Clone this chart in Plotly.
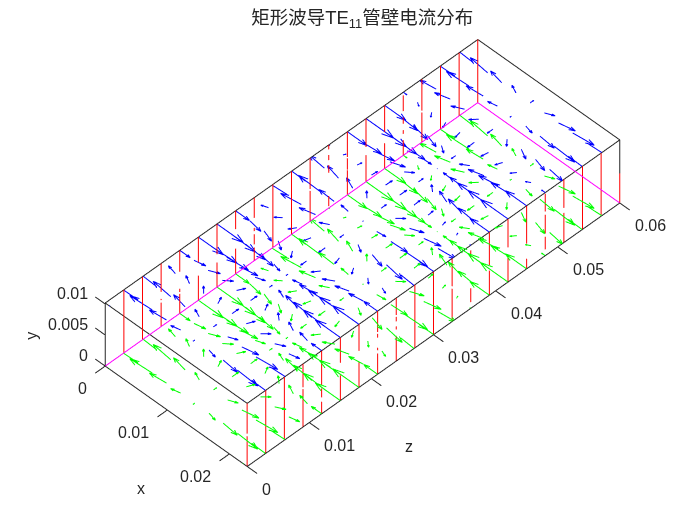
import plotly.graph_objects as go

# waveguide size (m)
A = 0.02286
B = 0.01016
C = 0.06

X_STEP = 0.002286
Z_STEP = 0.003

# surface current on the broad walls, one row per z step
# (in grid steps, x component then z component)
JX = [
    [-1.05, -1.00, -0.85, -0.62, -0.32, 0, 0.32, 0.62, 0.85, 1.00, 1.05],
    [-1.87, -1.78, -1.51, -1.10, -0.58, 0, 0.58, 1.10, 1.51, 1.78, 1.87],
    [-1.72, -1.64, -1.39, -1.01, -0.53, 0, 0.53, 1.01, 1.39, 1.64, 1.72],
    [-0.66, -0.63, -0.53, -0.39, -0.20, 0, 0.20, 0.39, 0.53, 0.63, 0.66],
    [0.74, 0.70, 0.60, 0.44, 0.23, 0, -0.23, -0.44, -0.60, -0.70, -0.74],
    [1.76, 1.67, 1.42, 1.03, 0.54, 0, -0.54, -1.03, -1.42, -1.67, -1.76],
    [1.85, 1.76, 1.50, 1.09, 0.57, 0, -0.57, -1.09, -1.50, -1.76, -1.85],
    [0.97, 0.92, 0.78, 0.57, 0.30, 0, -0.30, -0.57, -0.78, -0.92, -0.97],
    [-0.42, -0.40, -0.34, -0.25, -0.13, 0, 0.13, 0.25, 0.34, 0.40, 0.42],
    [-1.59, -1.51, -1.29, -0.93, -0.49, 0, 0.49, 0.93, 1.29, 1.51, 1.59],
    [-1.92, -1.83, -1.55, -1.13, -0.59, 0, 0.59, 1.13, 1.55, 1.83, 1.92],
    [-1.25, -1.19, -1.01, -0.74, -0.39, 0, 0.39, 0.74, 1.01, 1.19, 1.25],
    [0.07, 0.07, 0.06, 0.04, 0.02, 0, -0.02, -0.04, -0.06, -0.07, -0.07],
    [1.37, 1.30, 1.11, 0.81, 0.42, 0, -0.42, -0.81, -1.11, -1.30, -1.37],
    [1.94, 1.84, 1.57, 1.14, 0.60, 0, -0.60, -1.14, -1.57, -1.84, -1.94],
    [1.50, 1.43, 1.21, 0.88, 0.46, 0, -0.46, -0.88, -1.21, -1.43, -1.50],
    [0.27, 0.26, 0.22, 0.16, 0.08, 0, -0.08, -0.16, -0.22, -0.26, -0.27],
    [-1.10, -1.05, -0.89, -0.65, -0.34, 0, 0.34, 0.65, 0.89, 1.05, 1.10],
    [-1.89, -1.80, -1.53, -1.11, -0.58, 0, 0.58, 1.11, 1.53, 1.80, 1.89],
    [-1.69, -1.61, -1.37, -0.99, -0.52, 0, 0.52, 0.99, 1.37, 1.61, 1.69],
    [-0.61, -0.58, -0.49, -0.36, -0.19, 0, 0.19, 0.36, 0.49, 0.58, 0.61],
]
JZ = [
    [0, -0.10, -0.19, -0.26, -0.30, -0.32, -0.30, -0.26, -0.19, -0.10, 0],
    [0, -0.03, -0.06, -0.08, -0.10, -0.10, -0.10, -0.08, -0.06, -0.03, 0],
    [0, 0.06, 0.11, 0.15, 0.17, 0.18, 0.17, 0.15, 0.11, 0.06, 0],
    [0, 0.11, 0.21, 0.29, 0.34, 0.36, 0.34, 0.29, 0.21, 0.11, 0],
    [0, 0.11, 0.21, 0.28, 0.33, 0.35, 0.33, 0.28, 0.21, 0.11, 0],
    [0, 0.05, 0.09, 0.13, 0.15, 0.16, 0.15, 0.13, 0.09, 0.05, 0],
    [0, -0.03, -0.06, -0.09, -0.10, -0.11, -0.10, -0.09, -0.06, -0.03, 0],
    [0, -0.10, -0.19, -0.27, -0.31, -0.33, -0.31, -0.27, -0.19, -0.10, 0],
    [0, -0.11, -0.22, -0.30, -0.35, -0.37, -0.35, -0.30, -0.22, -0.11, 0],
    [0, -0.07, -0.13, -0.18, -0.21, -0.22, -0.21, -0.18, -0.13, -0.07, 0],
    [0, 0.02, 0.03, 0.04, 0.05, 0.05, 0.05, 0.04, 0.03, 0.02, 0],
    [0, 0.09, 0.17, 0.23, 0.28, 0.29, 0.28, 0.23, 0.17, 0.09, 0],
    [0, 0.12, 0.22, 0.31, 0.36, 0.38, 0.36, 0.31, 0.22, 0.12, 0],
    [0, 0.08, 0.16, 0.22, 0.26, 0.27, 0.26, 0.22, 0.16, 0.08, 0],
    [0, 0.01, 0.01, 0.02, 0.02, 0.02, 0.02, 0.02, 0.01, 0.01, 0],
    [0, -0.07, -0.14, -0.19, -0.23, -0.24, -0.23, -0.19, -0.14, -0.07, 0],
    [0, -0.12, -0.22, -0.31, -0.36, -0.38, -0.36, -0.31, -0.22, -0.12, 0],
    [0, -0.10, -0.18, -0.25, -0.29, -0.31, -0.29, -0.25, -0.18, -0.10, 0],
    [0, -0.03, -0.05, -0.07, -0.09, -0.09, -0.09, -0.07, -0.05, -0.03, 0],
    [0, 0.06, 0.11, 0.15, 0.18, 0.19, 0.18, 0.15, 0.11, 0.06, 0],
    [0, 0.11, 0.21, 0.29, 0.34, 0.36, 0.34, 0.29, 0.21, 0.11, 0],
]

# red pieces on the narrow walls, per z step, as (from, to) in fractions of B
RED_X0 = [
    [],
    [(0, 1)], [(0, 1)], [(0, 0.38), (0.42, 0.44), (0.55, 1)],
    [(0, 0.31), (0.34, 0.39), (0.66, 1)], [(0, 0.39), (0.6, 1)], [(0, 0.39), (0.52, 1)],
    [(0, 0.4), (0.71, 1)], [(0, 0.21), (0.26, 0.42), (0.47, 0.52), (0.68, 1)],
    [(0, 1)], [(0, 1)], [(0, 0.48), (0.51, 1)],
    [(0.03, 0.19), (0.56, 0.68), (0.76, 0.84), (0.93, 1)],
    [(0, 0.39), (0.4, 0.58), (0.6, 1)], [(0, 0.42), (0.55, 1)], [(0, 0.4), (0.58, 1)],
    [(0, 0.24), (0.34, 0.4), (0.5, 0.6), (0.7, 0.95)],
    [(0, 0.47), (0.5, 1)], [(0, 1)], [(0, 1)], [(0, 1)],
]
RED_XA = [
    [(0, 0.48), (0.52, 1)],
    [(0, 1)], [(0, 1)], [(0, 0.6), (0.63, 1)],
    [(0, 0.19), (0.26, 0.4), (0.45, 0.65), (0.64, 1)], [(0, 0.4), (0.6, 1)], [(0, 0.4), (0.58, 1)],
    [(0, 0.33), (0.38, 0.42), (0.58, 0.64), (0.67, 1)],
    [(0, 0.4), (0.5, 0.55), (0.63, 0.7), (0.73, 1)],
    [(0, 1)], [(0, 1)], [(0, 0.52), (0.56, 1)],
    [(0.1, 0.32), (0.8, 0.92)],
    [(0, 0.39), (0.48, 1)], [(0, 0.4), (0.55, 1)], [(0, 0.16), (0.4, 1)],
    [(0.1, 0.3), (0.35, 0.65), (0.7, 0.98)],
    [(0, 0.47), (0.55, 1)], [(0, 1)], [(0, 1)], [(0, 0.47), (0.53, 1)],
]

X_TICKS = [0, 0.01, 0.02]
Y_TICKS = [0, 0.005, 0.01]
Z_TICKS = [0, 0.01, 0.02, 0.03, 0.04, 0.05, 0.06]
X_LABELS = ["0", "0.01", "0.02"]
Y_LABELS = ["0", "0.005", "0.01"]
Z_LABELS = ["0", "0.01", "0.02", "0.03", "0.04", "0.05", "0.06"]

TEXT = "#262626"
FONT = "Liberation Sans"
ALPHA = 0.33
BETA = 0.33
TICK = 0.0016
ZOOM = 2.33


def clip(p, q):
    # matlab clips to the axes box, the scene range here is a bit wider
    t0, t1 = 0.0, 1.0
    for a, b, hi in ((p[0], q[0], A), (p[1], q[1], C)):
        d = b - a
        if d == 0:
            if a < 0 or a > hi:
                return None
            continue
        ta, tb = (0 - a) / d, (hi - a) / d
        if ta > tb:
            ta, tb = tb, ta
        t0, t1 = max(t0, ta), min(t1, tb)
    if t0 >= t1:
        return None
    return (
        (p[0] + t0 * (q[0] - p[0]), p[1] + t0 * (q[1] - p[1])),
        (p[0] + t1 * (q[0] - p[0]), p[1] + t1 * (q[1] - p[1])),
    )


def arrows(y0):
    xs, ys, zs = [], [], []
    for j in range(21):
        for i in range(11):
            u = JX[j][i] * X_STEP
            w = JZ[j][i] * Z_STEP
            if u == 0 and w == 0:
                continue
            tail = (i * X_STEP, j * Z_STEP)
            tip = (tail[0] + u, tail[1] + w)
            b1 = (tip[0] - ALPHA * (u + BETA * w), tip[1] - ALPHA * (w - BETA * u))
            b2 = (tip[0] - ALPHA * (u - BETA * w), tip[1] - ALPHA * (w + BETA * u))
            for p, q in ((tail, tip), (b1, tip), (b2, tip)):
                seg = clip(p, q)
                if seg is None:
                    continue
                xs += [seg[0][0], seg[1][0], None]
                ys += [y0, y0, None]
                zs += [seg[0][1], seg[1][1], None]
    return go.Scatter3d(
        x=xs, y=ys, z=zs, mode="lines", showlegend=False, hoverinfo="skip",
        line=dict(color="#0000ff" if y0 else "#00ff00", width=2),
    )


def polyline(pts, color, width=2):
    xs, ys, zs = [], [], []
    for p in pts:
        if p is None:
            xs.append(None), ys.append(None), zs.append(None)
        else:
            xs.append(p[0]), ys.append(p[1]), zs.append(p[2])
    return go.Scatter3d(
        x=xs, y=ys, z=zs, mode="lines", showlegend=False, hoverinfo="skip",
        line=dict(color=color, width=width),
    )


fig = go.Figure()
fig.add_trace(arrows(B))
fig.add_trace(arrows(0))

red = []
for x0, table in ((0, RED_X0), (A, RED_XA)):
    for j, pieces in enumerate(table):
        for a, b in pieces:
            red += [(x0, a * B, j * Z_STEP), (x0, b * B, j * Z_STEP), None]
fig.add_trace(polyline(red, "#ff0000"))

fig.add_trace(polyline([(0, 0, 0), (0, 0, C), (A, 0, C)], "#ff00ff"))

box = [
    (0, B, 0), (A, B, 0), (A, B, C), (0, B, C), (0, B, 0), None,
    (0, 0, 0), (A, 0, 0), (A, 0, C), None,
    (0, 0, 0), (0, B, 0), None,
    (A, 0, C), (A, B, C), None,
]
for t in X_TICKS:
    box += [(t, 0, 0), (t, 0, -TICK), None]
for t in Y_TICKS:
    box += [(0, t, 0), (-TICK, t, 0), None]
for t in Z_TICKS:
    box += [(A, 0, t), (A + TICK, 0, t), None]
fig.add_trace(polyline(box, TEXT))

notes = []


def note(x, y, z, text, xshift, yshift, xanchor, angle=0):
    notes.append(dict(
        x=x, y=y, z=z, text=text, showarrow=False, xanchor=xanchor, yanchor="middle",
        xshift=xshift, yshift=yshift, textangle=angle,
        font=dict(family=FONT, size=16, color=TEXT),
    ))


for t, s in zip(X_TICKS, X_LABELS):
    note(t, 0, 0, s, -16, -23, "right")
for t, s in zip(Y_TICKS, Y_LABELS):
    note(0, t, 0, s, -15, 10, "right")
for t, s in zip(Z_TICKS, Z_LABELS):
    note(A, 0, t, s, 13, -23, "left")
note(A / 2, 0, 0, "x", -35, -72, "center")
note(0, B / 2, 0, "y", -74, -1, "center", angle=-90)
note(A, 0, C / 2, "z", -24, -112, "center")

hidden = dict(visible=False)
fig.update_layout(
    width=700,
    height=525,
    margin=dict(l=0, r=0, t=0, b=0),
    paper_bgcolor="white",
    title=dict(
        text="矩形波导TE<sub>11</sub>管壁电流分布",
        x=0.506, y=0.981, xanchor="center", yanchor="middle",
        font=dict(family="Liberation Sans, Noto Sans CJK SC", size=18.5, color=TEXT),
    ),
    scene=dict(
        domain=dict(x=[0.0129, 1], y=[0.067, 1]),
        xaxis=dict(hidden, range=[-0.0018, A + 0.0018]),
        yaxis=dict(hidden, range=[-0.0003, B + 0.0003]),
        zaxis=dict(hidden, range=[-0.0025, C + 0.0025]),
        aspectmode="manual",
        aspectratio=dict(x=ZOOM * (A + 0.0036) / 0.065, y=ZOOM * (B + 0.0006) / 0.065, z=ZOOM),
        camera=dict(
            up=dict(x=0, y=1, z=0),
            center=dict(x=0, y=0, z=0),
            eye=dict(x=-1, y=-1.414, z=1),
            projection=dict(type="orthographic"),
        ),
        annotations=notes,
    ),
)

fig.write_html("out.html")
